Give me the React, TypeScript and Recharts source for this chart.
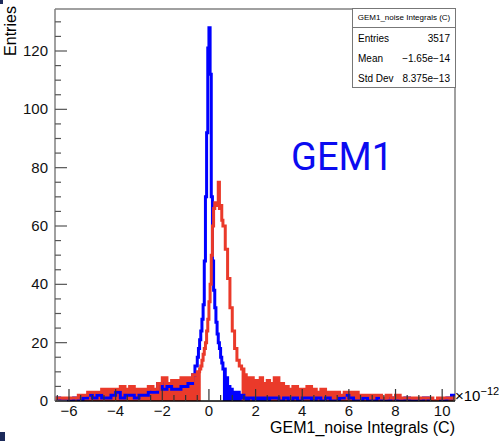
import { ComposedChart, Line, Area, XAxis, YAxis, ReferenceLine } from 'recharts';

// histogram binning, x in units of 1e-12 C: [from, to, bin width]
const binSegments: number[][] = [
  [-6.6, -1.0, 0.2],
  [-1.0, -0.5, 0.1],
  [-0.5, 0.6, 0.05],
  [0.6, 2.6, 0.1],
  [2.6, 10.6, 0.2],
];

// counts per bin (blue = GEM1, drawn first)
const blueCounts = [
  // -6.6 .. -1.2 (0.2)
  1, 0, 0, 0, 1, 0, 1, 2, 1, 2, 1, 1, 2, 3, 1, 2, 2, 1, 2, 2, 3, 3, 6, 4, 5, 4, 4, 5,
  // -1.0 .. -0.6 (0.1)
  5, 6, 6, 9, 12,
  // -0.5 .. 0.55 (0.05)
  15, 18, 21, 24, 28, 33, 48, 70, 92, 121, 128, 112, 70, 48, 38, 32, 27, 23, 20, 18, 15, 13,
  // 0.6 .. 2.5 (0.1)
  11, 8, 5, 4, 3, 2, 3, 1, 2, 1, 0, 1, 1, 0, 1, 0, 1, 0, 1, 0,
  // 2.6 .. 10.4 (0.2)
  1, 1, 0, 1, 0, 1, 0, 1, 1, 0, 1, 0, 1, 0, 0, 1, 2, 1, 0, 0,
  1, 0, 0, 1, 0, 0, 1, 0, 0, 1, 0, 0, 0, 1, 0, 0, 0, 0, 1, 2,
];

const redCounts = [
  // -6.6 .. -1.2 (0.2)
  1, 1, 1, 1, 1, 2, 2, 3, 3, 3, 4, 4, 4, 4, 5, 4, 5, 4, 4, 4, 5, 4, 6, 8, 6, 7, 7, 8,
  // -1.0 .. -0.6 (0.1)
  7, 8, 7, 9, 9,
  // -0.5 .. 0.55 (0.05)
  10, 10, 11, 12, 14, 16, 18, 20, 24, 28, 34, 40, 50, 60, 66, 68, 67, 68, 75, 66, 67, 62,
  // 0.6 .. 2.5 (0.1)
  60, 52, 42, 32, 24, 18, 14, 12, 11, 9, 8, 7, 8, 7, 6, 7, 8, 6, 6, 7,
  // 2.6 .. 10.4 (0.2)
  6, 8, 6, 5, 4, 5, 4, 4, 5, 4, 3, 4, 3, 3, 3, 2, 3, 3, 3, 2,
  2, 2, 2, 2, 1, 2, 1, 2, 1, 1, 1, 1, 1, 1, 1, 0, 1, 1, 1, 1,
];

const xTickLabels = [-6, -4, -2, 0, 2, 4, 6, 8, 10];
const yTickLabels = [0, 20, 40, 60, 80, 100, 120];

const X_MIN = -6.6;
const X_MAX = 10.55;
const Y_MAX = 134.4;
const BLUE = '#0000ff';
const RED = '#ea3a2a';
const FONT = '"Liberation Sans", Arial, sans-serif';

const binEdges: number[] = [];
binSegments.forEach(([from, to, w]) => {
  const n = Math.round((to - from) / w);
  for (let i = 0; i < n; i++) binEdges.push(+(from + i * w).toFixed(3));
});

const data = binEdges.map((x, i) => ({ x, blue: blueCounts[i], red: redCounts[i] }));
data.push({ x: 10.6, blue: blueCounts[blueCounts.length - 1], red: redCounts[redCounts.length - 1] });

// low tails look solid in the original (many tiny bins), fill them
const tail = (v: number) => (v <= 11 ? v : 0);

const xMinorTicks: number[] = [];
for (let v = -6.5; v <= 10.5; v += 0.5) xMinorTicks.push(v);
const yMinorTicks: number[] = [];
for (let v = 0; v <= 130; v += 5) yMinorTicks.push(v);

const fmt = (v: number) => (v < 0 ? `\u2212${-v}` : `${v}`);

function XTick({ x, y, payload }: any) {
  const v = payload.value;
  const major = xTickLabels.includes(v);
  return (
    <g>
      <line x1={x} x2={x} y1={y} y2={y - (major ? 12 : 6)} stroke="#333" strokeWidth={1.2} />
      {major && (
        <text x={x} y={y + 15} textAnchor="middle" fontSize={15} fontFamily={FONT} fill="#111">
          {fmt(v)}
        </text>
      )}
    </g>
  );
}

function YTick({ x, y, payload }: any) {
  const v = payload.value;
  const major = yTickLabels.includes(v);
  return (
    <g>
      <line x1={x} x2={x + (major ? 12 : 6)} y1={y} y2={y} stroke="#555" strokeWidth={1.2} />
      {major && (
        <text x={x - 7} y={y + 5} textAnchor="end" fontSize={15} fontFamily={FONT} fill="#111">
          {v}
        </text>
      )}
    </g>
  );
}

const statRow: React.CSSProperties = {
  display: 'flex',
  justifyContent: 'space-between',
  height: 20,
  alignItems: 'center',
  padding: '0 5px',
};

export default function App() {
  return (
    <div style={{ position: 'absolute', left: 0, top: 0, width: 499, height: 441, background: '#fff', fontFamily: FONT }}>
      <ComposedChart width={499} height={441} data={data} margin={{ top: 9, right: 44, bottom: 0, left: 0 }}>
        <XAxis
          type="number"
          dataKey="x"
          domain={[X_MIN, X_MAX]}
          allowDataOverflow
          ticks={xMinorTicks}
          interval={0}
          tick={<XTick />}
          tickLine={false}
          tickSize={0}
          tickMargin={0}
          height={40}
          axisLine={{ stroke: '#000', strokeWidth: 1.5 }}
        />
        <YAxis
          type="number"
          domain={[0, Y_MAX]}
          allowDataOverflow
          ticks={yMinorTicks}
          interval={0}
          tick={<YTick />}
          tickLine={false}
          tickSize={0}
          tickMargin={0}
          width={55}
          axisLine={{ stroke: '#808080', strokeWidth: 1.5 }}
        />
        <ReferenceLine y={Y_MAX} stroke="#808080" strokeWidth={1.5} />
        <ReferenceLine x={X_MAX} stroke="#808080" strokeWidth={1.5} />
        <Area type="stepAfter" dataKey={(d: any) => tail(d.blue)} stroke="none" fill={BLUE} fillOpacity={1} isAnimationActive={false} />
        <Line type="stepAfter" dataKey="blue" stroke={BLUE} strokeWidth={3} dot={false} isAnimationActive={false} />
        <Area type="stepAfter" dataKey={(d: any) => tail(d.red)} stroke="none" fill={RED} fillOpacity={1} isAnimationActive={false} />
        <Line type="stepAfter" dataKey="red" stroke={RED} strokeWidth={3} dot={false} isAnimationActive={false} />
      </ComposedChart>

      <div style={{ position: 'absolute', left: 11, top: 31, transform: 'translate(-50%, -50%) rotate(-90deg)', fontSize: 16, whiteSpace: 'nowrap' }}>
        Entries
      </div>
      <div style={{ position: 'absolute', right: 44, top: 419, fontSize: 16, whiteSpace: 'nowrap' }}>
        GEM1_noise Integrals (C)
      </div>
      <div style={{ position: 'absolute', left: 455, top: 385, fontSize: 15, whiteSpace: 'nowrap' }}>
        ×10<sup style={{ fontSize: 11, verticalAlign: 6 }}>−12</sup>
      </div>
      <div style={{ position: 'absolute', left: 291, top: 138, fontSize: 38, color: '#0b0bf0', fontFamily: 'Roboto, sans-serif', lineHeight: 1 }}>
        GEM1
      </div>

      <div style={{ position: 'absolute', left: 352, top: 8, width: 102, height: 78, border: '1px solid #777', background: '#fff', fontSize: 10 }}>
        <div style={{ height: 18, borderBottom: '1px solid #777', fontSize: 8, textAlign: 'center', lineHeight: '18px', whiteSpace: 'nowrap' }}>
          GEM1_noise Integrals (C)
        </div>
        <div style={statRow}><span>Entries</span><span>3517</span></div>
        <div style={statRow}><span>Mean</span><span>−1.65e−14</span></div>
        <div style={statRow}><span>Std Dev</span><span>8.375e−13</span></div>
      </div>

      <div style={{ position: 'absolute', left: 0, top: 0, width: 3, height: 4, background: '#1c2a5a' }} />
      <div style={{ position: 'absolute', left: 0, top: 432, width: 5, height: 9, background: '#1c2a5a' }} />
    </div>
  );
}
